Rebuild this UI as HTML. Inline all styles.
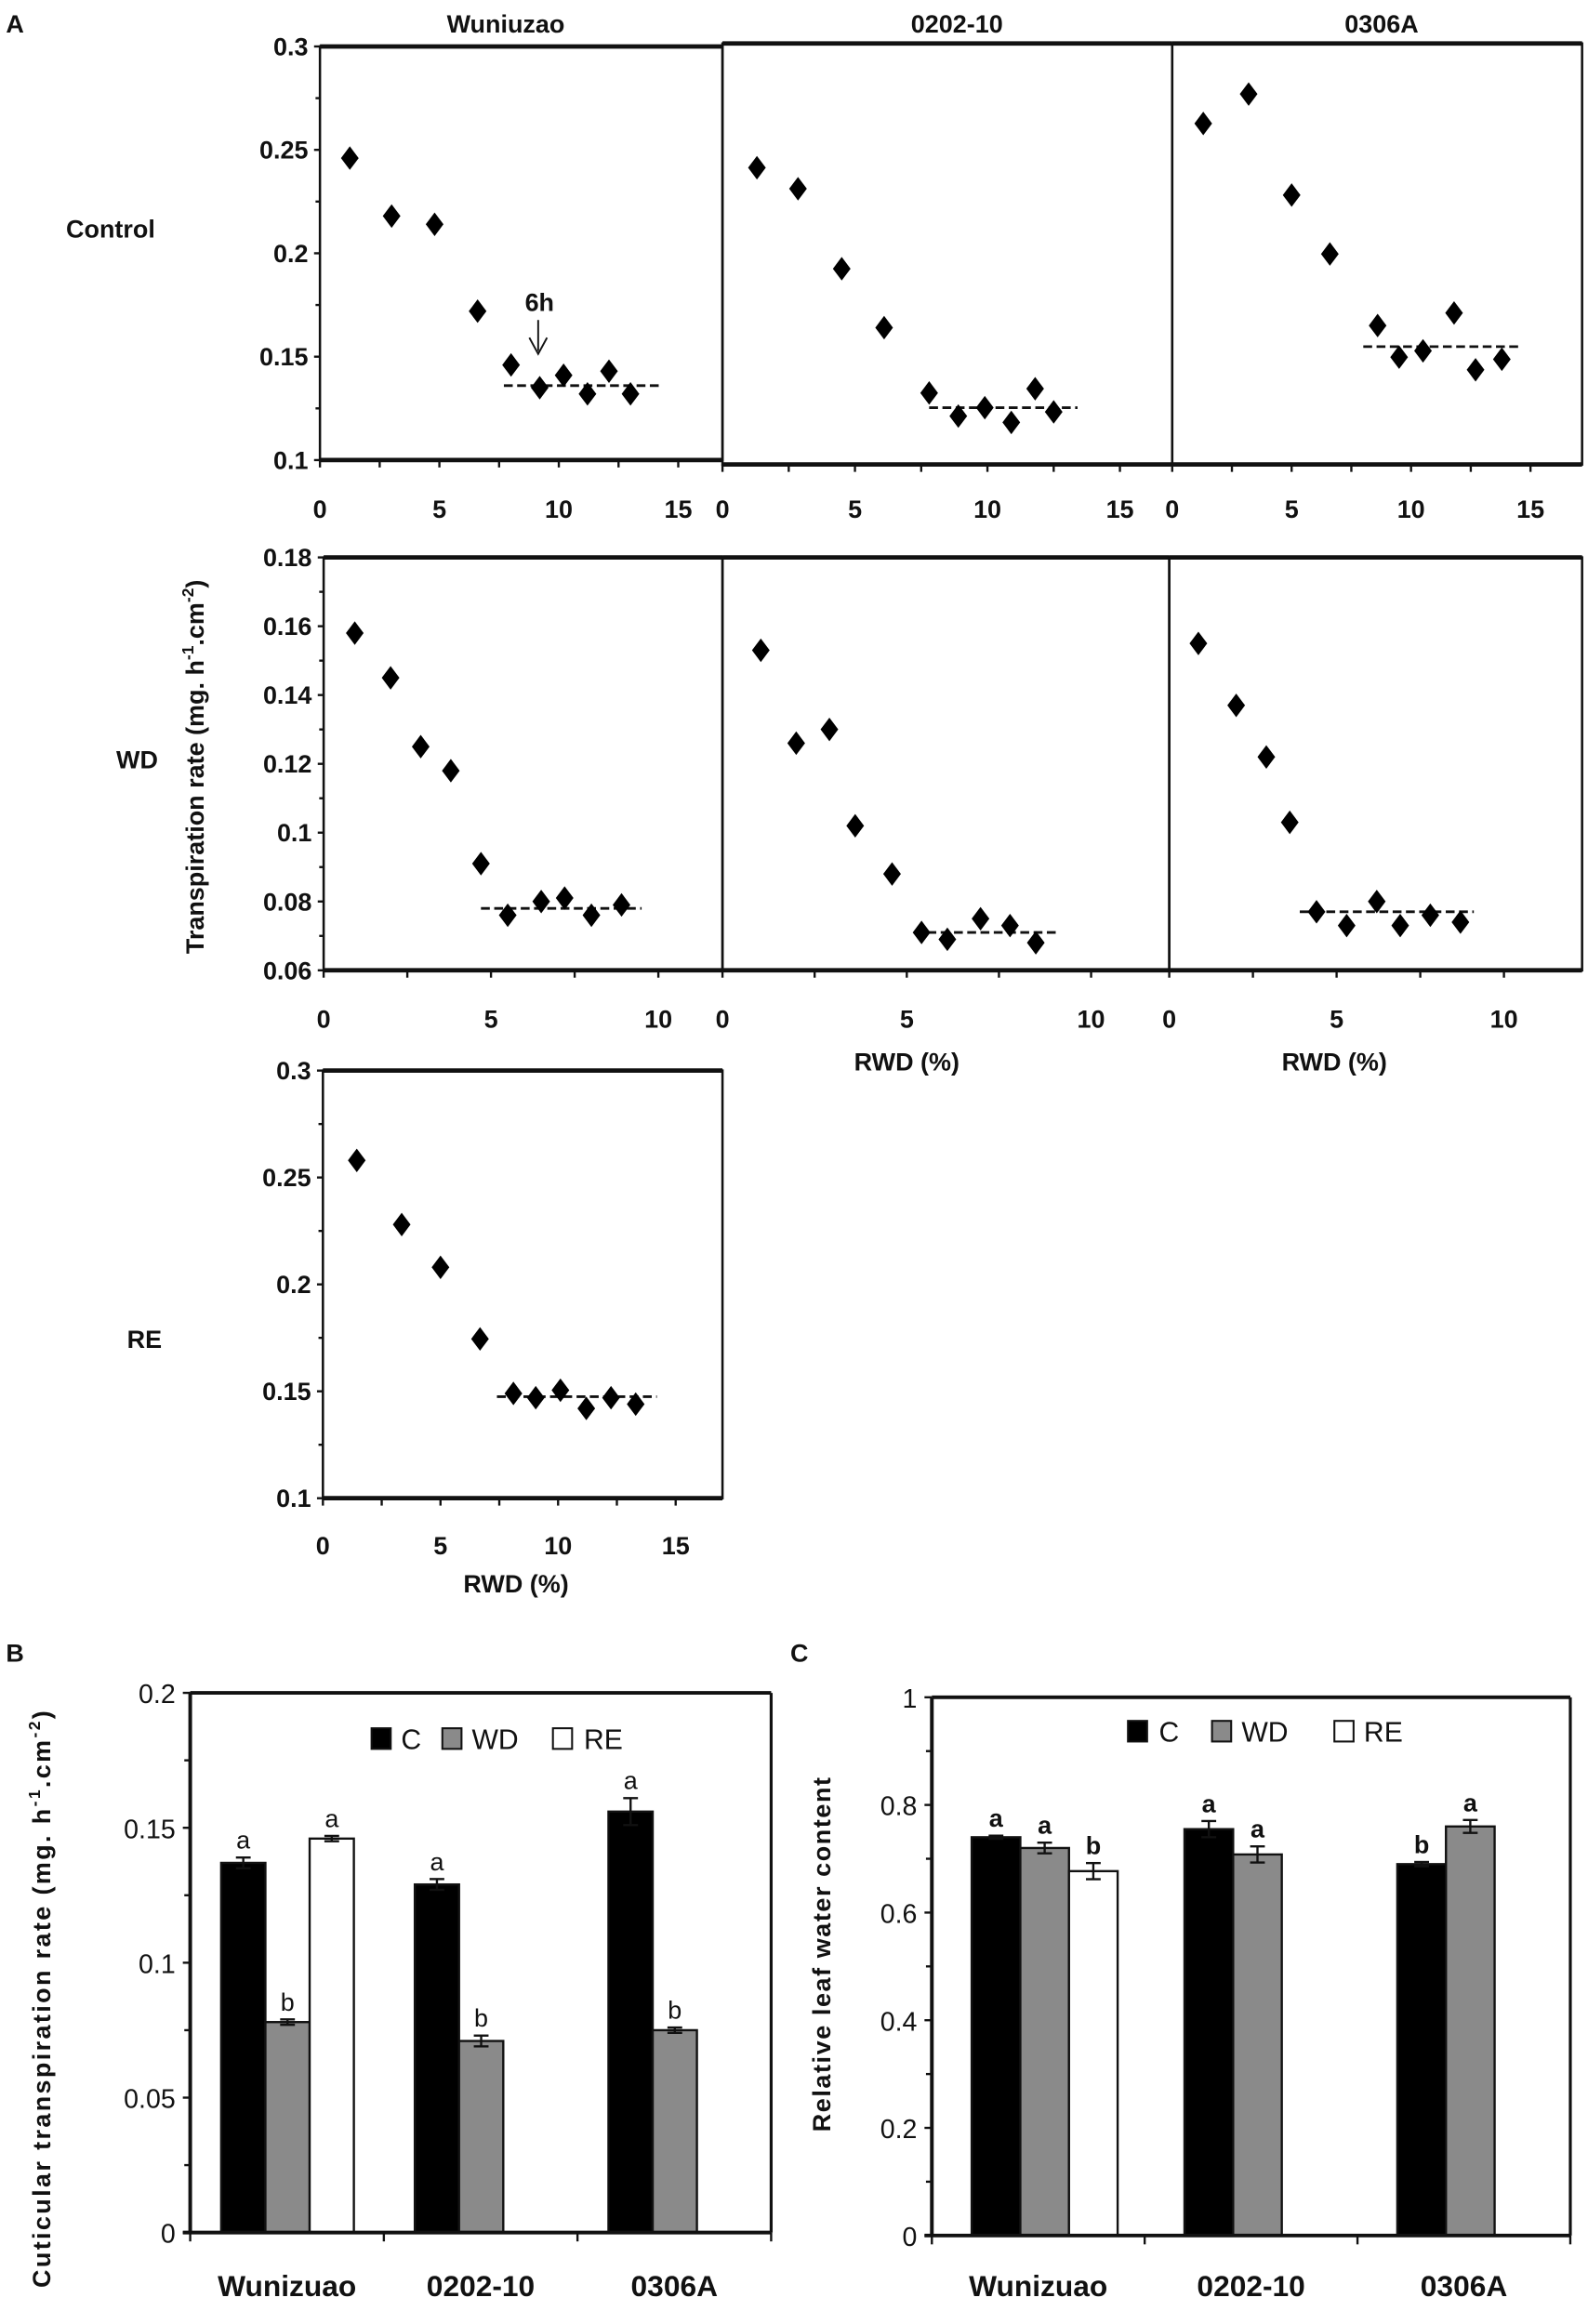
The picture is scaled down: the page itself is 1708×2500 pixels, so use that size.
<!DOCTYPE html>
<html><head><meta charset="utf-8"><style>
html,body{margin:0;padding:0;background:#fff;}
svg{display:block;}
text{font-family:"Liberation Sans",sans-serif;fill:#111;}
</style></head><body>
<svg id="fig" xmlns="http://www.w3.org/2000/svg" width="1708" height="2500" viewBox="0 0 1077 1576" preserveAspectRatio="none">
<text x="4" y="22" font-size="17" font-weight="bold">A</text>
<text x="4" y="1127" font-size="17" font-weight="bold">B</text>
<text x="536" y="1127" font-size="17" font-weight="bold">C</text>
<text x="343" y="22" font-size="17" font-weight="bold" text-anchor="middle">Wuniuzao</text>
<text x="649" y="22" font-size="17" font-weight="bold" text-anchor="middle">0202-10</text>
<text x="937" y="22" font-size="17" font-weight="bold" text-anchor="middle">0306A</text>
<text x="75" y="161" font-size="17" font-weight="bold" text-anchor="middle">Control</text>
<text x="93" y="521" font-size="17" font-weight="bold" text-anchor="middle">WD</text>
<text x="98" y="914" font-size="17" font-weight="bold" text-anchor="middle">RE</text>
<text transform="translate(138,520) rotate(-90)" font-size="17" font-weight="bold" text-anchor="middle">Transpiration rate (mg. h<tspan font-size="11" dy="-7">-1</tspan><tspan dy="7">.cm</tspan><tspan font-size="11" dy="-7">-2</tspan><tspan dy="7">)</tspan></text>
<text x="615" y="726" font-size="17" font-weight="bold" text-anchor="middle">RWD (%)</text>
<text x="905" y="726" font-size="17" font-weight="bold" text-anchor="middle">RWD (%)</text>
<text x="350" y="1080" font-size="17" font-weight="bold" text-anchor="middle">RWD (%)</text>
<text x="356" y="211" font-size="17" font-weight="bold">6h</text>
<line x1="365" y1="217" x2="365" y2="238" stroke="#111" stroke-width="1.2"/>
<polyline points="359,229 365,240 371,229" fill="none" stroke="#111" stroke-width="1.2"/>
<text transform="translate(34,1355) rotate(-90)" font-size="17" font-weight="bold" text-anchor="middle" letter-spacing="1.5">Cuticular  transpiration rate (mg. h<tspan font-size="11" dy="-7">-1</tspan><tspan dy="7">.cm</tspan><tspan font-size="11" dy="-7">-2</tspan><tspan dy="7">)</tspan></text>
<text transform="translate(563,1325) rotate(-90)" font-size="17" font-weight="bold" text-anchor="middle" letter-spacing="1">Relative leaf water content</text>
<g id="plots"></g>
</svg>
<script>
// ---- Panel A data ----
const ctrlWuX = [1.25, 3, 4.8, 6.6, 8, 9.2, 10.2, 11.2, 12.1, 13];
const ctrlWuY = [0.246, 0.218, 0.214, 0.172, 0.146, 0.135, 0.141, 0.132, 0.143, 0.132];
const ctrl02X = [1.3, 2.85, 4.5, 6.1, 7.8, 8.9, 9.9, 10.9, 11.8, 12.5];
const ctrl02Y = [0.241, 0.231, 0.193, 0.165, 0.134, 0.123, 0.127, 0.120, 0.136, 0.125];
const ctrl03X = [1.3, 3.2, 5.0, 6.6, 8.6, 9.5, 10.5, 11.8, 12.7, 13.8];
const ctrl03Y = [0.262, 0.276, 0.228, 0.200, 0.166, 0.151, 0.154, 0.172, 0.145, 0.150];
const wdWuX = [0.93, 2, 2.9, 3.8, 4.7, 5.5, 6.5, 7.2, 8, 8.9];
const wdWuY = [0.158, 0.145, 0.125, 0.118, 0.091, 0.076, 0.080, 0.081, 0.076, 0.079];
const wd02X = [1.04, 2, 2.9, 3.6, 4.6, 5.4, 6.1, 7, 7.8, 8.5];
const wd02Y = [0.153, 0.126, 0.130, 0.102, 0.088, 0.071, 0.069, 0.075, 0.073, 0.068];
const wd03X = [0.87, 2, 2.9, 3.6, 4.4, 5.3, 6.2, 6.9, 7.8, 8.7];
const wd03Y = [0.155, 0.137, 0.122, 0.103, 0.077, 0.073, 0.080, 0.073, 0.076, 0.074];
const reWuX = [1.44, 3.35, 5.0, 6.68, 8.1, 9.05, 10.1, 11.2, 12.25, 13.3];
const reWuY = [0.258, 0.228, 0.208, 0.1745, 0.149, 0.147, 0.1505, 0.142, 0.147, 0.144];
const dashLines = [[7.7, 14.2, 0.136], [7.8, 13.4, 0.127], [8.0, 14.6, 0.156], [4.7, 9.5, 0.078], [5.2, 9.1, 0.071], [3.9, 9.1, 0.077], [7.4, 14.2, 0.1475]];
const ticksRow1 = ["0.1", "0.15", "0.2", "0.25", "0.3"];
const ticksRow2 = ["0.06", "0.08", "0.1", "0.12", "0.14", "0.16", "0.18"];
const xTicks15 = ["0", "5", "10", "15"];
const xTicks10 = ["0", "5", "10"];
// ---- Panel B/C data ----
const categories = ["Wunizuao", "0202-10", "0306A"];
const bC = [0.137, 0.129, 0.156];
const bWD = [0.078, 0.071, 0.075];
const bRE = [0.146, null, null];
const bCerr = [0.002, 0.002, 0.005];
const bWDerr = [0.001, 0.002, 0.001];
const bREerr = [0.001, null, null];
const bCl = ["a", "a", "a"], bWDl = ["b", "b", "b"], bREl = ["a", null, null];
const cC = [0.740, 0.755, 0.690];
const cWD = [0.720, 0.708, 0.760];
const cRE = [0.677, null, null];
const cCerr = [0.003, 0.015, 0.004];
const cWDerr = [0.010, 0.015, 0.012];
const cREerr = [0.015, null, null];
const cCl = ["a", "a", "b"], cWDl = ["a", "a", "a"], cREl = ["b", null, null];
const bTicks = ["0", "0.05", "0.1", "0.15", "0.2"];
const cTicks = ["0", "0.2", "0.4", "0.6", "0.8", "1"];

const NS = "http://www.w3.org/2000/svg";
const root = document.getElementById("plots");
function mk(tag, attrs, parent) {
  const e = document.createElementNS(NS, tag);
  for (const k in attrs) e.setAttribute(k, attrs[k]);
  (parent || root).appendChild(e);
  return e;
}
function scatterPanel(p) {
  const g = mk("g", {});
  
  
  const sx = v => p.x0 + v * p.ppu;
  const sy = v => p.y1 - (v - p.ymin) / (p.ymax - p.ymin) * (p.y1 - p.y0);
  const fr = mk("rect", {x: p.x0, y: p.y0, width: p.xr - p.x0, height: p.y1 - p.y0, fill: "none", stroke: "#111", "stroke-width": 1.6}, g);
  
  
  mk("line", {x1: p.x0, x2: p.xr, y1: p.y0, y2: p.y0, stroke: "#111", "stroke-width": 3}, g);
  mk("line", {x1: p.x0, x2: p.xr, y1: p.y1, y2: p.y1, stroke: "#111", "stroke-width": 3}, g);
  if (p.ylabels) {
    const n = p.ylabels.length;
    for (let i = 0; i < n; i++) {
      const v = parseFloat(p.ylabels[i]);
      const y = sy(v);
      mk("line", {x1: p.x0 - 4, x2: p.x0, y1: y, y2: y, stroke: "#111", "stroke-width": 1.5}, g);
      if (i < n - 1) {
        const vm = (v + parseFloat(p.ylabels[i + 1])) / 2;
        mk("line", {x1: p.x0 - 3, x2: p.x0, y1: sy(vm), y2: sy(vm), stroke: "#111", "stroke-width": 1.5}, g);
      }
      const t = mk("text", {x: p.x0 - 8, y: y + 6, "font-size": 17, "font-weight": "bold", "text-anchor": "end"}, g);
      t.textContent = p.ylabels[i];
      
      
    }
  }
  const xl = p.xlabels;
  const xmaxT = parseFloat(xl[xl.length - 1]);
  for (let v = 0; v <= xmaxT + 0.01; v += 2.5) {
    mk("line", {x1: sx(v), x2: sx(v), y1: p.y1, y2: p.y1 + 5, stroke: "#111", "stroke-width": 1.5}, g);
  }
  xl.forEach(s => {
    const t = mk("text", {x: sx(parseFloat(s)), y: p.xlY, "font-size": 17, "font-weight": "bold", "text-anchor": "middle"}, g);
    t.textContent = s;
    
    
  });
  const d = p.dash;
  const dl = mk("line", {x1: sx(d[0]), x2: sx(d[1]), y1: sy(d[2]), y2: sy(d[2]), stroke: "#111", "stroke-width": 1.8, "stroke-dasharray": "6,3"}, g);
  
  
  p.xs.forEach((xv, i) => {
    const cx = sx(xv), cy = sy(p.ys[i]);
    const pt = mk("polygon", {points: `${cx},${cy - 8} ${cx + 6},${cy} ${cx},${cy + 8} ${cx - 6},${cy}`, fill: "#000"}, g);
    
    
  });
}
scatterPanel({name: "control-wuniuzao", x0: 217, xr: 490, y0: 31.5, y1: 312, ppu: 16.2, ymin: 0.1, ymax: 0.3, ylabels: ticksRow1, xlabels: xTicks15, xlY: 351, xs: ctrlWuX, ys: ctrlWuY, dash: dashLines[0]});
scatterPanel({name: "control-0202-10", x0: 490, xr: 795, y0: 29.5, y1: 315, ppu: 17.97, ymin: 0.1, ymax: 0.3, ylabels: null, xlabels: xTicks15, xlY: 351, xs: ctrl02X, ys: ctrl02Y, dash: dashLines[1]});
scatterPanel({name: "control-0306a", x0: 795, xr: 1073, y0: 29.5, y1: 315, ppu: 16.2, ymin: 0.1, ymax: 0.3, ylabels: null, xlabels: xTicks15, xlY: 351, xs: ctrl03X, ys: ctrl03Y, dash: dashLines[2]});
scatterPanel({name: "wd-wuniuzao", x0: 219.5, xr: 490, y0: 378, y1: 658, ppu: 22.7, ymin: 0.06, ymax: 0.18, ylabels: ticksRow2, xlabels: xTicks10, xlY: 697, xs: wdWuX, ys: wdWuY, dash: dashLines[3]});
scatterPanel({name: "wd-0202-10", x0: 490, xr: 793, y0: 378, y1: 658, ppu: 25, ymin: 0.06, ymax: 0.18, ylabels: null, xlabels: xTicks10, xlY: 697, xs: wd02X, ys: wd02Y, dash: dashLines[4]});
scatterPanel({name: "wd-0306a", x0: 793, xr: 1073, y0: 378, y1: 658, ppu: 22.7, ymin: 0.06, ymax: 0.18, ylabels: null, xlabels: xTicks10, xlY: 697, xs: wd03X, ys: wd03Y, dash: dashLines[5]});
scatterPanel({name: "re-wuniuzao", x0: 219, xr: 490, y0: 726, y1: 1016, ppu: 15.95, ymin: 0.1, ymax: 0.3, ylabels: ticksRow1, xlabels: xTicks15, xlY: 1054, xs: reWuX, ys: reWuY, dash: dashLines[6]});

function barPanel(p) {
  const g = mk("g", {});
  
  
  const ymax = parseFloat(p.ticks[p.ticks.length - 1]);
  const sy = v => p.y1 - v / ymax * (p.y1 - p.y0);
  const cw = (p.xr - p.x0) / categories.length;
  const series = [[p.C, p.Ce, p.Cl, "#000", "bar-c"], [p.WD, p.WDe, p.WDl, "#8a8a8a", "bar-wd"], [p.RE, p.REe, p.REl, "#fff", "bar-re"]];
  series.forEach((s, si) => {
    s[0].forEach((v, ci) => {
      if (v === null) return;
      const x = p.x0 + ci * cw + p.off + si * p.bw;
      const r = mk("rect", {x: x, y: sy(v), width: p.bw, height: p.y1 - sy(v), fill: s[3], stroke: "#111", "stroke-width": 1.5}, g);
      
      
      const cx = x + p.bw / 2, e = s[1][ci];
      mk("line", {x1: cx, x2: cx, y1: sy(v + e), y2: sy(v - e), stroke: "#111", "stroke-width": 1.5}, g);
      mk("line", {x1: cx - 5, x2: cx + 5, y1: sy(v + e), y2: sy(v + e), stroke: "#111", "stroke-width": 1.5}, g);
      mk("line", {x1: cx - 5, x2: cx + 5, y1: sy(v - e), y2: sy(v - e), stroke: "#111", "stroke-width": 1.5}, g);
      const t = mk("text", {x: cx, y: sy(v + e) - 6, "font-size": 17, "text-anchor": "middle", "font-weight": p.boldL ? "bold" : "normal"}, g);
      t.textContent = s[2][ci];
      
      
    });
  });
  mk("line", {x1: p.x0, x2: p.xr, y1: p.y0, y2: p.y0, stroke: "#111", "stroke-width": 2.5}, g);
  mk("line", {x1: p.xr, x2: p.xr, y1: p.y0, y2: p.y1, stroke: "#111", "stroke-width": 2}, g);
  mk("line", {x1: p.x0, x2: p.x0, y1: p.y0, y2: p.y1, stroke: "#111", "stroke-width": 2.5}, g);
  mk("line", {x1: p.x0 - 5, x2: p.xr, y1: p.y1, y2: p.y1, stroke: "#111", "stroke-width": 2.5}, g);
  const n = p.ticks.length;
  for (let i = 0; i < n; i++) {
    const v = parseFloat(p.ticks[i]);
    mk("line", {x1: p.x0 - 5, x2: p.x0, y1: sy(v), y2: sy(v), stroke: "#111", "stroke-width": 1.5}, g);
    if (i < n - 1) {
      const vm = (v + parseFloat(p.ticks[i + 1])) / 2;
      mk("line", {x1: p.x0 - 4, x2: p.x0, y1: sy(vm), y2: sy(vm), stroke: "#111", "stroke-width": 1.5}, g);
    }
    const t = mk("text", {x: p.x0 - 10, y: sy(v) + 7, "font-size": 18, "text-anchor": "end"}, g);
    t.textContent = p.ticks[i];
    
    
  }
  categories.forEach((c, ci) => {
    const xs = p.x0 + ci * cw;
    mk("line", {x1: xs, x2: xs, y1: p.y1, y2: p.y1 + 6, stroke: "#111", "stroke-width": 1.5}, g);
    const t = mk("text", {x: xs + cw / 2, y: 1557, "font-size": 20, "text-anchor": "middle", "font-weight": "bold"}, g);
    t.textContent = c;
    
    
  });
  mk("line", {x1: p.xr, x2: p.xr, y1: p.y1, y2: p.y1 + 6, stroke: "#111", "stroke-width": 1.5}, g);
  const L = p.leg;
  const lg = mk("g", {}, g);
  
  
  [["#000", "C"], ["#8a8a8a", "WD"], ["#fff", "RE"]].forEach((it, i) => {
    mk("rect", {x: L.sq[i], y: L.y, width: 13, height: 14, fill: it[0], stroke: "#111", "stroke-width": 1.3}, lg);
    const t = mk("text", {x: L.tx[i], y: L.y + 14, "font-size": 19}, lg);
    t.textContent = it[1];
    
    
  });
}
barPanel({name: "panel-b-bars", x0: 129, xr: 523, y0: 1148, y1: 1514, bw: 30, off: 21, ticks: bTicks, C: bC, WD: bWD, RE: bRE, Ce: bCerr, WDe: bWDerr, REe: bREerr, Cl: bCl, WDl: bWDl, REl: bREl, boldL: false, leg: {y: 1172, sq: [252, 300, 375], tx: [272, 320, 396]}});
barPanel({name: "panel-c-bars", x0: 632, xr: 1065, y0: 1151, y1: 1516, bw: 33, off: 27, ticks: cTicks, C: cC, WD: cWD, RE: cRE, Ce: cCerr, WDe: cWDerr, REe: cREerr, Cl: cCl, WDl: cWDl, REl: cREl, boldL: true, leg: {y: 1167, sq: [765, 822, 905], tx: [786, 842, 925]}});
</script>
</body></html>
